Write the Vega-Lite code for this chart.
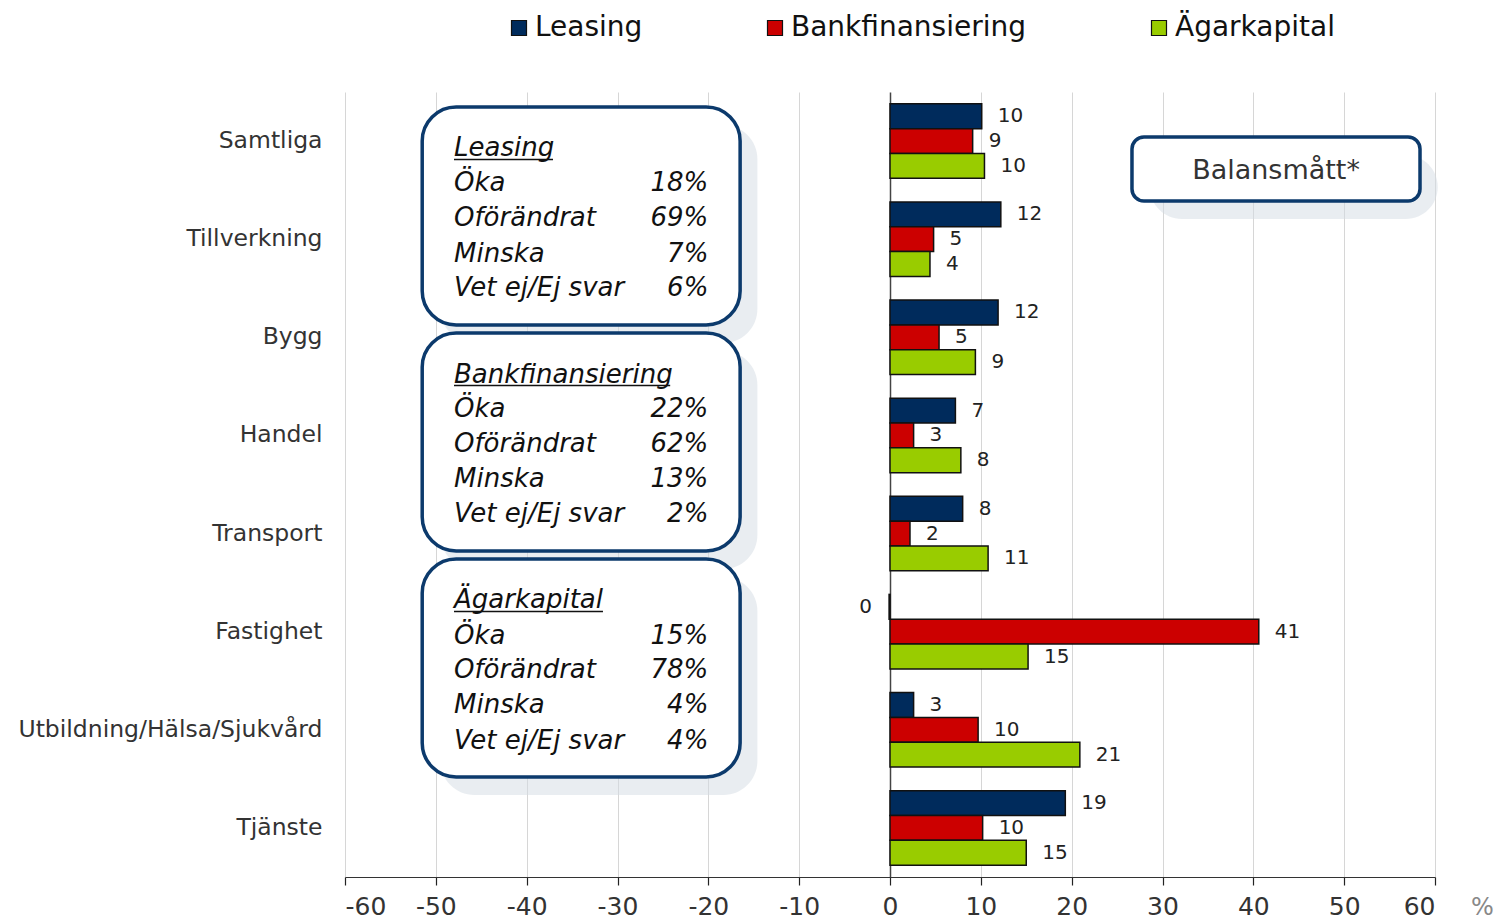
{
  "$schema": "https://vega.github.io/schema/vega-lite/v6.json",
  "width": 1090,
  "height": 785,
  "autosize": {"type": "none"},
  "padding": {"left": 345, "top": 92, "right": 62, "bottom": 45},
  "background": "white",
  "config": {
    "font": "DejaVu Sans",
    "view": {"stroke": null},
    "axisX": {"titleFontSize": 24, "titleFontWeight": "normal", "titleColor": "#888888", "titleX": 1137, "titleY": 30, "titleAlign": "center", "titleBaseline": "middle", "titleFont": "DejaVu Sans"}
  },
  "datasets": {
    "bars": [
      {"cat": "Samtliga", "series": "Leasing", "value": 10.1},
      {"cat": "Samtliga", "series": "Bankfinansiering", "value": 9.1},
      {"cat": "Samtliga", "series": "Ägarkapital", "value": 10.4},
      {"cat": "Tillverkning", "series": "Leasing", "value": 12.2},
      {"cat": "Tillverkning", "series": "Bankfinansiering", "value": 4.8},
      {"cat": "Tillverkning", "series": "Ägarkapital", "value": 4.4},
      {"cat": "Bygg", "series": "Leasing", "value": 11.9},
      {"cat": "Bygg", "series": "Bankfinansiering", "value": 5.4},
      {"cat": "Bygg", "series": "Ägarkapital", "value": 9.4},
      {"cat": "Handel", "series": "Leasing", "value": 7.2},
      {"cat": "Handel", "series": "Bankfinansiering", "value": 2.6},
      {"cat": "Handel", "series": "Ägarkapital", "value": 7.8},
      {"cat": "Transport", "series": "Leasing", "value": 8.0},
      {"cat": "Transport", "series": "Bankfinansiering", "value": 2.2},
      {"cat": "Transport", "series": "Ägarkapital", "value": 10.8},
      {"cat": "Fastighet", "series": "Leasing", "value": -0.1},
      {"cat": "Fastighet", "series": "Bankfinansiering", "value": 40.6},
      {"cat": "Fastighet", "series": "Ägarkapital", "value": 15.2},
      {"cat": "Utbildning/Hälsa/Sjukvård", "series": "Leasing", "value": 2.6},
      {"cat": "Utbildning/Hälsa/Sjukvård", "series": "Bankfinansiering", "value": 9.7},
      {"cat": "Utbildning/Hälsa/Sjukvård", "series": "Ägarkapital", "value": 20.9},
      {"cat": "Tjänste", "series": "Leasing", "value": 19.3},
      {"cat": "Tjänste", "series": "Bankfinansiering", "value": 10.2},
      {"cat": "Tjänste", "series": "Ägarkapital", "value": 15.0}
    ],
    "boxes": [
      {"x1": -51.5, "x2": -16.5, "y1": 0.153, "y2": 2.374},
      {"x1": -51.5, "x2": -16.5, "y1": 2.456, "y2": 4.678},
      {"x1": -51.5, "x2": -16.5, "y1": 4.759, "y2": 6.981}
    ],
    "shadows": [
      {"x1": -49.5, "x2": -14.6, "y1": 0.336, "y2": 2.557},
      {"x1": -49.5, "x2": -14.6, "y1": 2.639, "y2": 4.861},
      {"x1": -49.5, "x2": -14.6, "y1": 4.942, "y2": 7.164},
      {"x1": 28.6, "x2": 60.3, "y1": 0.642, "y2": 1.294}
    ],
    "balans": [
      {"x1": 26.64, "x2": 58.35, "y1": 0.459, "y2": 1.111, "xc": 42.5, "yc": 0.805, "t": "Balansmått*"}
    ],
    "titles": [
      {"t": "Leasing", "y": 0.575, "ux1": -48, "ux2": -37.1, "uy": 0.687},
      {"t": "Bankfinansiering", "y": 2.879, "ux1": -48, "ux2": -24.2, "uy": 2.991},
      {"t": "Ägarkapital", "y": 5.182, "ux1": -48, "ux2": -31.6, "uy": 5.294}
    ],
    "lines": [
      {"t": "Öka", "pct": "18%", "y": 0.932},
      {"t": "Oförändrat", "pct": "69%", "y": 1.289},
      {"t": "Minska", "pct": "7%", "y": 1.646},
      {"t": "Vet ej/Ej svar", "pct": "6%", "y": 2.002},
      {"t": "Öka", "pct": "22%", "y": 3.235},
      {"t": "Oförändrat", "pct": "62%", "y": 3.592},
      {"t": "Minska", "pct": "13%", "y": 3.949},
      {"t": "Vet ej/Ej svar", "pct": "2%", "y": 4.305},
      {"t": "Öka", "pct": "15%", "y": 5.539},
      {"t": "Oförändrat", "pct": "78%", "y": 5.895},
      {"t": "Minska", "pct": "4%", "y": 6.252},
      {"t": "Vet ej/Ej svar", "pct": "4%", "y": 6.609}
    ]
  },
  "layer": [
    {
      "layer": [
        {
          "data": {"name": "shadows"},
          "mark": {"type": "rect", "cornerRadius": 34, "fill": "#d3dbe3", "opacity": 0.5},
          "encoding": {
            "x": {"field": "x1", "type": "quantitative", "title": "%"},
            "x2": {"field": "x2"},
            "y": {"field": "y1", "type": "quantitative", "scale": {"domain": [0, 8], "reverse": true, "nice": false, "zero": false}, "axis": null},
            "y2": {"field": "y2"}
          }
        },
        {
          "data": {"name": "boxes"},
          "mark": {"type": "rect", "cornerRadius": 34, "fill": "white", "stroke": "#0c3a6c", "strokeWidth": 3.5},
          "encoding": {
            "x": {"field": "x1", "type": "quantitative", "title": "%"},
            "x2": {"field": "x2"},
            "y": {"field": "y1", "type": "quantitative", "scale": {"domain": [0, 8], "reverse": true, "nice": false, "zero": false}, "axis": null},
            "y2": {"field": "y2"}
          }
        },
        {
          "data": {"name": "balans"},
          "mark": {"type": "rect", "cornerRadius": 12, "fill": "white", "stroke": "#0c3a6c", "strokeWidth": 3.5},
          "encoding": {
            "x": {"field": "x1", "type": "quantitative", "title": "%"},
            "x2": {"field": "x2"},
            "y": {"field": "y1", "type": "quantitative", "scale": {"domain": [0, 8], "reverse": true, "nice": false, "zero": false}, "axis": null},
            "y2": {"field": "y2"}
          }
        },
        {
          "data": {"name": "balans"},
          "mark": {"type": "text", "fontSize": 27, "color": "#333333", "align": "center", "baseline": "middle"},
          "encoding": {
            "x": {"field": "xc", "type": "quantitative", "title": "%"},
            "y": {"field": "yc", "type": "quantitative", "scale": {"domain": [0, 8], "reverse": true, "nice": false, "zero": false}, "axis": null},
            "text": {"field": "t", "type": "nominal"}
          }
        },
        {
          "data": {"name": "titles"},
          "mark": {"type": "text", "fontSize": 26, "fontStyle": "italic", "color": "#111111", "align": "left", "baseline": "middle"},
          "encoding": {
            "x": {"field": "ux1", "type": "quantitative", "title": "%"},
            "y": {"field": "y", "type": "quantitative", "scale": {"domain": [0, 8], "reverse": true, "nice": false, "zero": false}, "axis": null},
            "text": {"field": "t", "type": "nominal"}
          }
        },
        {
          "data": {"name": "titles"},
          "mark": {"type": "rule", "color": "#111111", "strokeWidth": 1.5},
          "encoding": {
            "x": {"field": "ux1", "type": "quantitative", "title": "%"},
            "x2": {"field": "ux2"},
            "y": {"field": "uy", "type": "quantitative", "scale": {"domain": [0, 8], "reverse": true, "nice": false, "zero": false}, "axis": null}
          }
        },
        {
          "data": {"name": "lines"},
          "mark": {"type": "text", "fontSize": 26, "fontStyle": "italic", "color": "#111111", "align": "left", "baseline": "middle", "x": {"expr": "scale('x', -48)"}},
          "encoding": {
            "y": {"field": "y", "type": "quantitative", "scale": {"domain": [0, 8], "reverse": true, "nice": false, "zero": false}, "axis": null},
            "text": {"field": "t", "type": "nominal"}
          }
        },
        {
          "data": {"name": "lines"},
          "mark": {"type": "text", "fontSize": 26, "fontStyle": "italic", "color": "#111111", "align": "right", "baseline": "middle", "x": {"expr": "scale('x', -20)"}},
          "encoding": {
            "y": {"field": "y", "type": "quantitative", "scale": {"domain": [0, 8], "reverse": true, "nice": false, "zero": false}, "axis": null},
            "text": {"field": "pct", "type": "nominal"}
          }
        }
      ]
    },
    {
      "data": {"name": "bars"},
      "layer": [
        {
          "mark": {"type": "bar", "stroke": "#111111", "strokeWidth": 1.5},
          "encoding": {
            "x": {
              "field": "value", "type": "quantitative", "title": "%",
              "scale": {"domain": [-60, 60], "nice": false, "zero": false},
              "axis": {
                "values": [-60, -50, -40, -30, -20, -10, 0, 10, 20, 30, 40, 50, 60],
                "labelExpr": "'' + datum.value",
                "grid": true,
                "gridColor": {"condition": {"test": "datum.value === 0", "value": "#444444"}, "value": "#d6d6d6"},
                "gridWidth": {"condition": {"test": "datum.value === 0", "value": 1.5}, "value": 1},
                "domainColor": "#333333", "domainWidth": 1.2,
                "tickColor": "#222222", "tickSize": 8, "tickWidth": 1.2,
                "labelFontSize": 25, "labelColor": "#333333", "labelPadding": 9,
                "title": "%"
              }
            },
            "y": {
              "field": "cat", "type": "nominal",
              "sort": ["Samtliga", "Tillverkning", "Bygg", "Handel", "Transport", "Fastighet", "Utbildning/Hälsa/Sjukvård", "Tjänste"],
              "scale": {"paddingInner": 0.24, "paddingOuter": 0.12},
              "axis": {"title": null, "domain": false, "ticks": false, "grid": false, "labelFontSize": 23.5, "labelColor": "#333333", "labelPadding": 23, "labelLimit": 400}
            },
            "yOffset": {
              "field": "series", "type": "nominal",
              "sort": ["Leasing", "Bankfinansiering", "Ägarkapital"],
              "scale": {"paddingInner": 0, "paddingOuter": 0}
            },
            "color": {
              "field": "series", "type": "nominal",
              "scale": {"domain": ["Leasing", "Bankfinansiering", "Ägarkapital"], "range": ["#002b5c", "#cc0000", "#99cc00"]},
              "legend": {
                "orient": "none", "legendX": 160, "legendY": -78, "direction": "horizontal",
                "title": null, "symbolType": "square", "symbolSize": 225,
                "symbolStrokeColor": "#111111", "symbolStrokeWidth": 1.2, "symbolOpacity": 1,
                "labelFontSize": 28, "labelColor": "#111111", "labelOffset": 2, "columnPadding": 118,
                "labelLimit": 400
              }
            }
          }
        },
        {
          "transform": [{"filter": "datum.value >= 0"}],
          "mark": {"type": "text", "align": "left", "baseline": "middle", "dx": 16, "fontSize": 20, "color": "#222222"},
          "encoding": {
            "x": {"field": "value", "type": "quantitative", "title": "%"},
            "y": {"field": "cat", "type": "nominal", "sort": ["Samtliga", "Tillverkning", "Bygg", "Handel", "Transport", "Fastighet", "Utbildning/Hälsa/Sjukvård", "Tjänste"]},
            "yOffset": {"field": "series", "type": "nominal", "sort": ["Leasing", "Bankfinansiering", "Ägarkapital"]},
            "text": {"field": "value", "type": "quantitative", "format": ".0f"}
          }
        },
        {
          "transform": [{"filter": "datum.value < 0"}],
          "mark": {"type": "text", "align": "right", "baseline": "middle", "dx": -17, "fontSize": 20, "color": "#222222"},
          "encoding": {
            "x": {"field": "value", "type": "quantitative", "title": "%"},
            "y": {"field": "cat", "type": "nominal", "sort": ["Samtliga", "Tillverkning", "Bygg", "Handel", "Transport", "Fastighet", "Utbildning/Hälsa/Sjukvård", "Tjänste"]},
            "yOffset": {"field": "series", "type": "nominal", "sort": ["Leasing", "Bankfinansiering", "Ägarkapital"]},
            "text": {"field": "value", "type": "quantitative", "format": ".0f"}
          }
        }
      ]
    }
  ],
  "resolve": {"scale": {"y": "independent"}}
}
